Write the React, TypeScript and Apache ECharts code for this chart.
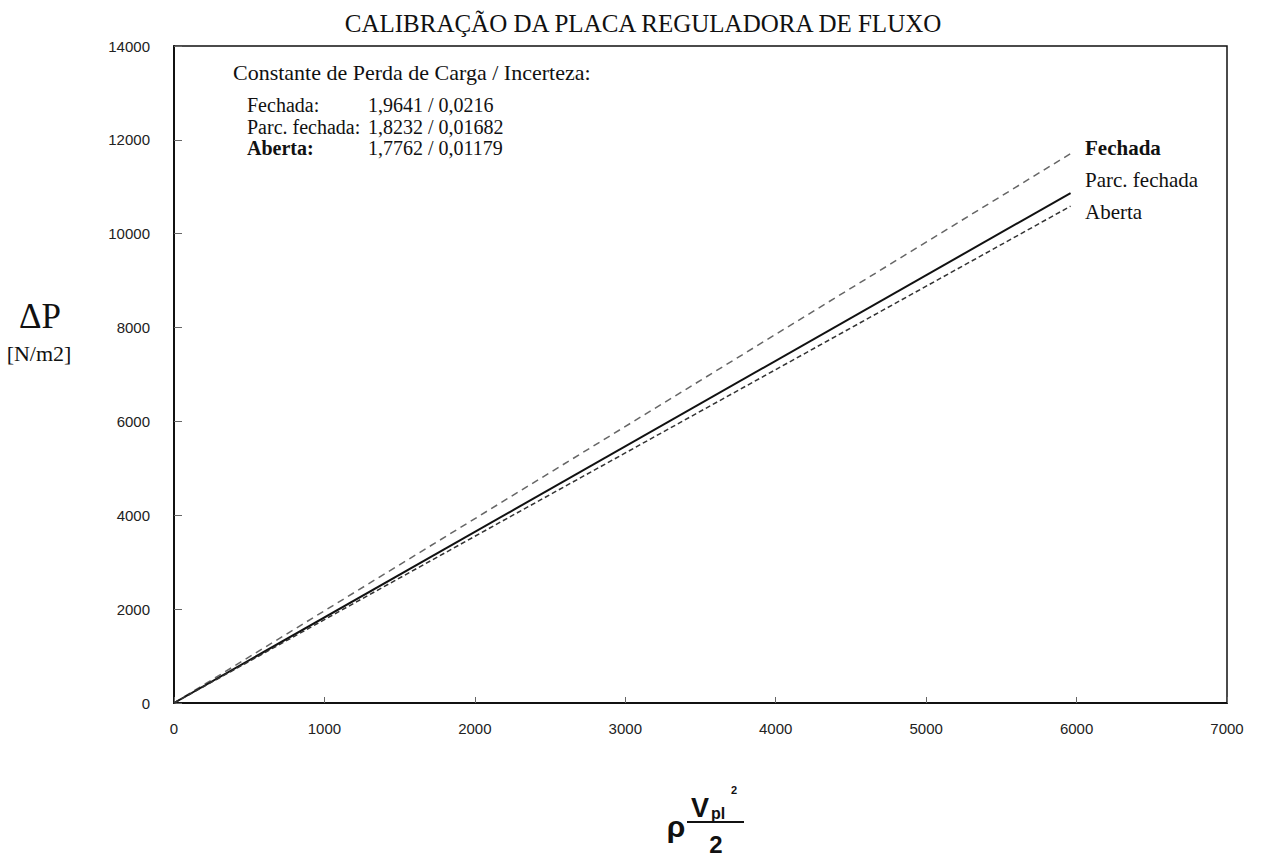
import React, { useEffect, useRef } from "react";
import * as echarts from "echarts";

// Flow-regulating plate calibration: ΔP vs dynamic pressure ρ·V²/2
const xPoints = [0, 5960];
const fechada = [0, 11706];
const parcFechada = [0, 10866];
const aberta = [0, 10586];

const xTicks = [0, 1000, 2000, 3000, 4000, 5000, 6000, 7000];
const yTicks = [0, 2000, 4000, 6000, 8000, 10000, 12000, 14000];

const constRows = [
  { name: "Fechada:", value: "1,9641 / 0,0216", bold: false },
  { name: "Parc. fechada:", value: "1,8232 / 0,01682", bold: false },
  { name: "Aberta:", value: "1,7762 / 0,01179", bold: true },
];

const serif = "'Liberation Serif', 'Times New Roman', serif";
const sans = "'Liberation Sans', Arial, sans-serif";

const txt = (x: number, y: number, text: string, font: string, align = "left") => ({
  type: "text",
  x,
  y,
  style: { text, font, fill: "#111", align, verticalAlign: "middle" },
});

export default function App() {
  const ref = useRef<HTMLDivElement>(null);

  useEffect(() => {
    if (!ref.current) return;
    const chart = echarts.init(ref.current, null, { renderer: "svg" });
    const pair = (ys: number[]) => xPoints.map((x, i) => [x, ys[i]]);

    const constTexts: any[] = [];
    constRows.forEach((r, i) => {
      const y = 105 + i * 21.5;
      constTexts.push(txt(247, y, r.name, `${r.bold ? "bold " : ""}20px ${serif}`));
      constTexts.push(txt(368, y, r.value, `20px ${serif}`));
    });

    chart.setOption({
      animation: false,
      backgroundColor: "#fff",
      grid: {
        left: 174,
        right: 34,
        top: 46,
        bottom: 156,
        show: true,
        borderColor: "#111",
        borderWidth: 1.5,
        backgroundColor: "transparent",
      },
      xAxis: {
        type: "value",
        min: 0,
        max: 7000,
        interval: 1000,
        splitLine: { show: false },
        axisLine: { show: true, lineStyle: { color: "#111", width: 2 } },
        axisTick: { show: true, inside: true, length: 6, lineStyle: { color: "#666" } },
        axisLabel: {
          margin: 18,
          fontFamily: sans,
          fontSize: 15,
          color: "#222",
          formatter: (v: number) => (xTicks.includes(v) ? String(v) : ""),
        },
      },
      yAxis: {
        type: "value",
        min: 0,
        max: 14000,
        interval: 2000,
        splitLine: { show: false },
        axisLine: { show: true, lineStyle: { color: "#111", width: 2 } },
        axisTick: { show: true, inside: true, length: 8, lineStyle: { color: "#666" } },
        axisLabel: {
          margin: 24,
          fontFamily: sans,
          fontSize: 15,
          color: "#222",
          formatter: (v: number) => (yTicks.includes(v) ? String(v) : ""),
        },
      },
      series: [
        {
          name: "Fechada",
          type: "line",
          data: pair(fechada),
          symbol: "none",
          lineStyle: { color: "#666", width: 1.5, type: [7, 5] },
        },
        {
          name: "Parc. fechada",
          type: "line",
          data: pair(parcFechada),
          symbol: "none",
          lineStyle: { color: "#111", width: 2 },
        },
        {
          name: "Aberta",
          type: "line",
          data: pair(aberta),
          symbol: "none",
          lineStyle: { color: "#333", width: 1.5, type: [5, 3] },
        },
      ],
      graphic: [
        txt(643, 23, "CALIBRAÇÃO DA PLACA REGULADORA DE FLUXO", `25px ${serif}`, "center"),
        txt(233, 72, "Constante de Perda de Carga / Incerteza:", `22px ${serif}`),
        ...constTexts,
        // series end labels
        txt(1085, 148, "Fechada", `bold 21px ${serif}`),
        txt(1085, 180, "Parc. fechada", `21px ${serif}`),
        txt(1085, 212, "Aberta", `21px ${serif}`),
        // y-axis title
        txt(40, 316, "ΔP", `35px ${serif}`, "center"),
        txt(39, 353, "[N/m2]", `22px ${serif}`, "center"),
        // x-axis title: ρ · Vpl² / 2
        txt(676, 826, "ρ", `bold 30px ${sans}`, "center"),
        txt(691, 808, "V", `bold 27px ${sans}`),
        txt(711, 813, "pl", `bold 16px ${sans}`),
        txt(731, 790, "2", `bold 11px ${sans}`),
        {
          type: "line",
          shape: { x1: 687, y1: 822, x2: 744, y2: 822 },
          style: { stroke: "#111", lineWidth: 2 },
        },
        txt(716, 844, "2", `bold 24px ${sans}`, "center"),
      ],
    });
    return () => chart.dispose();
  }, []);

  return (
    <div
      ref={ref}
      style={{ position: "fixed", left: 0, top: 0, width: 1261, height: 859, background: "#fff" }}
    />
  );
}
